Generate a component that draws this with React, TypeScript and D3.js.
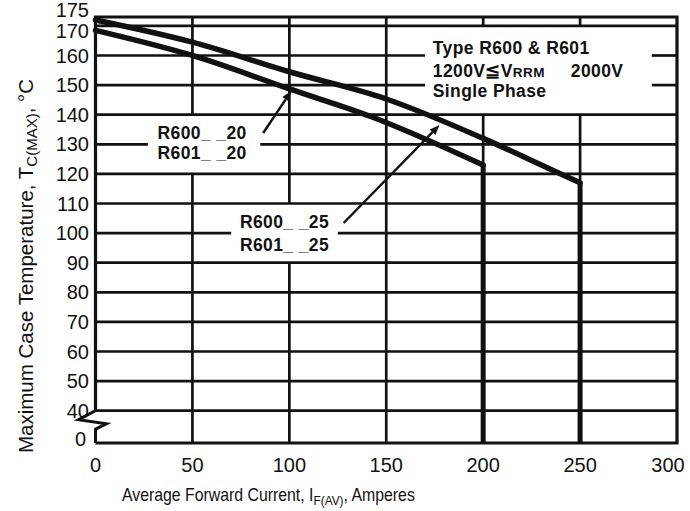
import React, { useEffect, useRef } from 'react';
import * as d3 from 'd3';

// axis ticks
const currentTicks = [0, 50, 100, 150, 200, 250, 300];
const tempTicks = [175, 170, 160, 150, 140, 130, 120, 110, 100, 90, 80, 70, 60, 50, 40, 0];
const gridTemps = [170, 160, 150, 140, 130, 120, 110, 100, 90, 80, 70, 60, 50, 40];
const gridCurrents = [50, 100, 150, 200, 250];

// curves
const r600_20_current = [0, 50, 100, 142, 200];
const r600_20_temp = [168.5, 160, 148.7, 139.4, 123];
const r600_25_current = [0, 50, 100, 150, 200, 235, 250];
const r600_25_temp = [172, 164.5, 154.5, 145.3, 132, 121.5, 117];

// gaps left in the grid around the labels
const hGaps: Record<number, [number, number]> = { 130: [27, 85], 100: [70, 125], 160: [170, 287], 150: [170, 287] };
const vGaps: Record<number, [number, number]> = { 50: [120, 140], 100: [90, 110], 200: [140, 170], 250: [140, 170] };

const FRAME_TOP = 173;
const FONT = '"Liberation Sans", Arial, sans-serif';

const App: React.FC = () => {
  const svgRef = useRef<SVGSVGElement>(null);
  const width = 690;
  const height = 511;

  useEffect(() => {
    if (!svgRef.current) return;
    const svg = d3.select(svgRef.current);
    svg.selectAll('*').remove();

    const x = d3.scaleLinear().domain([0, 300]).range([95.5, 677]);
    // broken axis: 0..40 squeezed
    const y = d3.scaleLinear().domain([0, 40, FRAME_TOP]).range([443, 410.7, 17]);

    const ink = '#111';

    // horizontal grid
    gridTemps.forEach(t => {
      const gap = hGaps[t];
      const segs: [number, number][] = gap ? [[0, gap[0]], [gap[1], 300]] : [[0, 300]];
      segs.forEach(([a, b]) => {
        svg.append('line')
          .attr('x1', x(a)).attr('x2', x(b))
          .attr('y1', y(t)).attr('y2', y(t))
          .attr('stroke', ink).attr('stroke-width', 2.7);
      });
    });

    // vertical grid
    gridCurrents.forEach(c => {
      const gap = vGaps[c];
      const segs: [number, number][] = gap ? [[0, gap[0]], [gap[1], FRAME_TOP]] : [[0, FRAME_TOP]];
      segs.forEach(([a, b]) => {
        svg.append('line')
          .attr('x1', x(c)).attr('x2', x(c))
          .attr('y1', y(a)).attr('y2', y(b))
          .attr('stroke', ink).attr('stroke-width', 2.7);
      });
    });

    // frame (left side has the zig-zag break)
    const x0 = x(0);
    const y40 = y(40);
    const framePath = d3.path();
    framePath.moveTo(x0, y(0));
    framePath.lineTo(x(300), y(0));
    framePath.lineTo(x(300), y(FRAME_TOP));
    framePath.lineTo(x0, y(FRAME_TOP));
    framePath.lineTo(x0, y40);
    svg.append('path').attr('d', framePath.toString())
      .attr('fill', 'none').attr('stroke', ink).attr('stroke-width', 3.2);

    svg.append('path')
      .attr('d', `M${x0},${y40} L${x0 - 17},${y40 + 9} L${x0 + 11},${y40 + 13} L${x0},${y40 + 18.5} L${x0},${y(0)}`)
      .attr('fill', 'none').attr('stroke', ink).attr('stroke-width', 3);

    // curves
    const line = d3.line<[number, number]>()
      .x(d => x(d[0]))
      .y(d => y(d[1]))
      .curve(d3.curveMonotoneX);

    const curves = [
      { cur: r600_20_current, temp: r600_20_temp },
      { cur: r600_25_current, temp: r600_25_temp }
    ];
    curves.forEach(c => {
      const pts = c.cur.map((v, i) => [v, c.temp[i]] as [number, number]);
      svg.append('path')
        .attr('d', line(pts))
        .attr('fill', 'none').attr('stroke', ink).attr('stroke-width', 5.5)
        .attr('stroke-linecap', 'round');
      const last = pts[pts.length - 1];
      svg.append('line')
        .attr('x1', x(last[0])).attr('x2', x(last[0]))
        .attr('y1', y(last[1])).attr('y2', y(0))
        .attr('stroke', ink).attr('stroke-width', 5);
    });

    // arrows
    const arrows = [
      { from: [86.5, 133.8], to: [101, 148] },
      { from: [128, 103.4], to: [177.5, 136.5] }
    ];
    arrows.forEach(a => {
      const x1 = x(a.from[0]), y1 = y(a.from[1]);
      const x2 = x(a.to[0]), y2 = y(a.to[1]);
      const ang = Math.atan2(y2 - y1, x2 - x1);
      const len = 10, w = 4;
      const bx = x2 - len * Math.cos(ang), by = y2 - len * Math.sin(ang);
      svg.append('line')
        .attr('x1', x1).attr('y1', y1).attr('x2', bx).attr('y2', by)
        .attr('stroke', ink).attr('stroke-width', 2.4);
      svg.append('path')
        .attr('d', `M${x2},${y2} L${bx + w * Math.sin(ang)},${by - w * Math.cos(ang)} L${bx - w * Math.sin(ang)},${by + w * Math.cos(ang)} Z`)
        .attr('fill', ink);
    });

    // y tick labels
    svg.append('g').selectAll('text')
      .data(tempTicks)
      .enter()
      .append('text')
      .attr('x', d => (d === 0 ? 86 : 89))
      .attr('y', d => y(d) + (d === 175 ? -1.5 : d === 170 ? 5 : d === 0 ? -4 : 0))
      .attr('dy', '0.36em')
      .attr('text-anchor', 'end')
      .style('font-family', FONT)
      .style('font-size', '20px')
      .style('fill', ink)
      .text(d => d);

    // x tick labels
    svg.append('g').selectAll('text')
      .data(currentTicks)
      .enter()
      .append('text')
      .attr('x', d => x(d) + (d === 300 ? -9 : 0))
      .attr('y', 465)
      .attr('dy', '0.36em')
      .attr('text-anchor', 'middle')
      .style('font-family', FONT)
      .style('font-size', '20px')
      .style('fill', ink)
      .text(d => d);

    // axis titles (x title is set in a condensed face in the original)
    const xt = svg.append('text')
      .attr('transform', 'translate(122, 501) scale(0.88, 1)')
      .style('font-family', FONT).style('font-size', '18px').style('fill', ink);
    xt.append('tspan').text('Average Forward Current, I');
    xt.append('tspan').attr('dy', 4).style('font-size', '13.5px').text('F(AV)');
    xt.append('tspan').attr('dy', -4).text(', Amperes');

    const yt = svg.append('text')
      .attr('transform', 'translate(33, 453) rotate(-90)')
      .style('font-family', FONT).style('font-size', '20.5px').style('fill', ink);
    yt.append('tspan').text('Maximum Case Temperature, T');
    yt.append('tspan').attr('dy', 4).style('font-size', '15px').text('C(MAX)');
    yt.append('tspan').attr('dy', -4).text(', °C');

    // annotation text
    const note = (cx: number, cy: number, s: string) =>
      svg.append('text')
        .attr('x', x(cx)).attr('y', y(cy))
        .attr('dy', '0.36em')
        .style('font-family', FONT).style('font-size', '17.5px')
        .style('font-weight', 'bold').style('fill', ink)
        .style('letter-spacing', '0.4px')
        .text(s);

    note(32, 133.8, 'R600_ _20');
    note(32, 127, 'R601_ _20');
    note(74.5, 103.8, 'R600_ _25');
    note(74.5, 96.2, 'R601_ _25');

    note(174, 162.5, 'Type R600 & R601');
    const v = svg.append('text')
      .attr('x', x(174)).attr('y', y(155))
      .attr('dy', '0.36em')
      .style('font-family', FONT).style('font-size', '17.5px')
      .style('font-weight', 'bold').style('fill', ink)
      .style('letter-spacing', '0.4px');
    v.append('tspan').text('1200V≦V');
    v.append('tspan').style('font-size', '13.5px').text('RRM');
    v.append('tspan').attr('dx', 26).text('2000V');
    note(174, 148, 'Single Phase');
  }, []);

  return (
    <svg
      ref={svgRef}
      width={width}
      height={height}
      style={{ position: 'absolute', left: 0, top: 0, background: '#fff' }}
    />
  );
};

export default App;
